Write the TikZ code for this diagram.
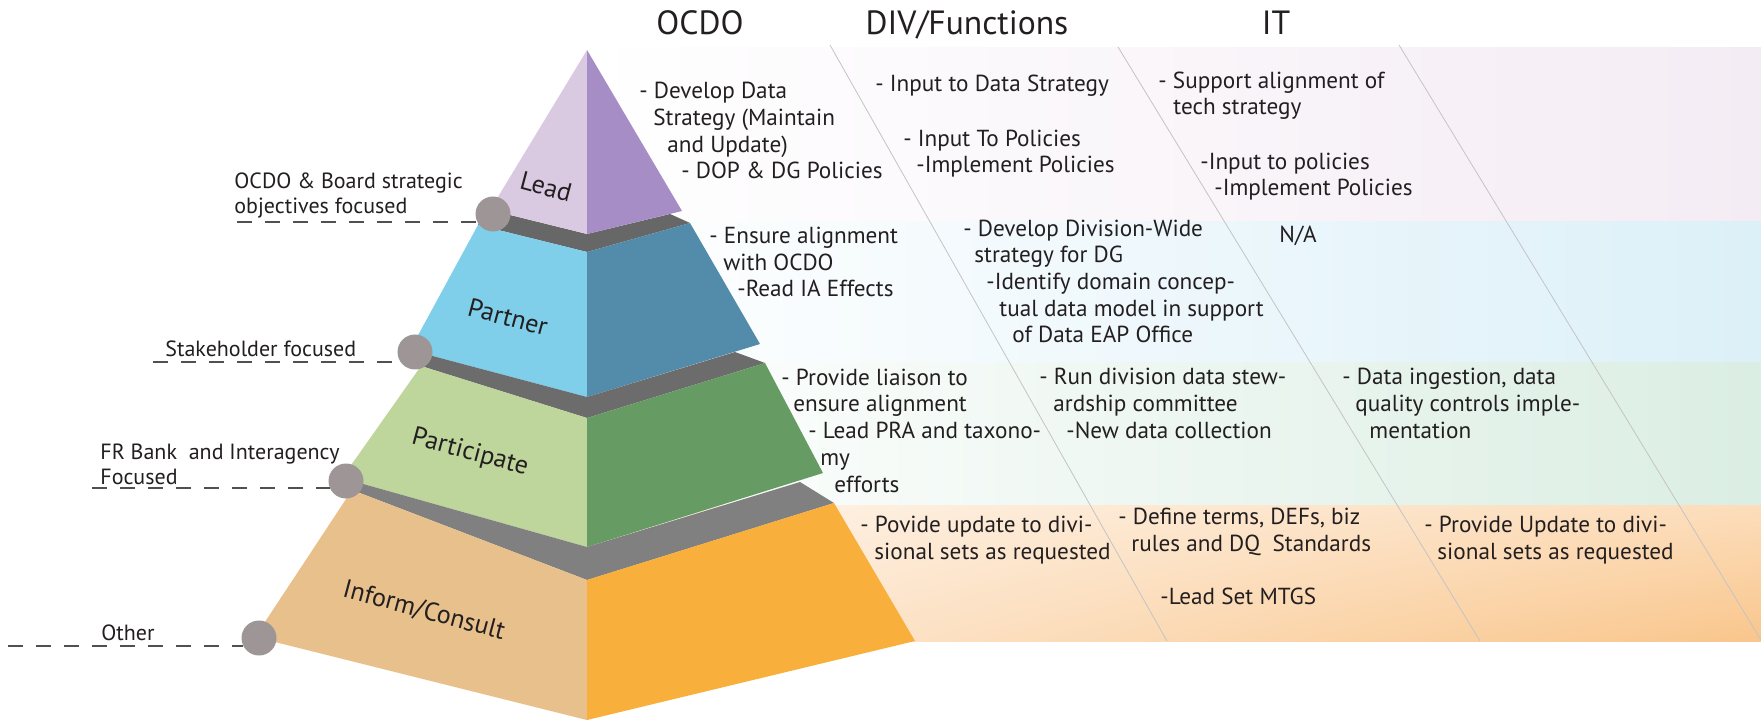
\documentclass[tikz,border=0pt]{standalone}
\usepackage{fontspec}
\setmainfont{PT Sans}
\usetikzlibrary{shadings}

\definecolor{ink}{HTML}{231F20}
\definecolor{leadL}{HTML}{D9CAE2}
\definecolor{leadR}{HTML}{A68DC6}
\definecolor{partL}{HTML}{7FCEEA}
\definecolor{partR}{HTML}{538BAA}
\definecolor{partiL}{HTML}{BED59C}
\definecolor{partiR}{HTML}{669C63}
\definecolor{infL}{HTML}{E8C08C}
\definecolor{infR}{HTML}{F9AF3B}
\definecolor{grayA}{HTML}{676767}
\definecolor{grayB}{HTML}{6C6C6C}
\definecolor{grayC}{HTML}{808080}
\definecolor{dotgray}{HTML}{9E9696}
\definecolor{dashgray}{HTML}{505050}
\definecolor{linegray}{HTML}{C4C4C4}
\definecolor{bandlead}{HTML}{F4ECF4}
\definecolor{bandpart}{HTML}{DCF0F8}
\definecolor{bandparti}{HTML}{DBEEE3}
\definecolor{infUL}{HTML}{FEF4EA}
\definecolor{infUR}{HTML}{FCDDBB}
\definecolor{infLL}{HTML}{FDEBD8}
\definecolor{infLR}{HTML}{F9C68C}

\begin{document}
\begin{tikzpicture}[x=0.5pt,y=-0.5pt,
  body/.style={anchor=base west,inner sep=0pt,align=left,text=ink,
    font=\fontsize{11.6}{13.35}\selectfont},
  side/.style={body,font=\fontsize{11}{12.5}\selectfont},
  level/.style={rotate=-15,inner sep=0pt,text=ink,font=\fontsize{13}{15}\selectfont},
  head/.style={anchor=base,inner sep=0pt,text=ink,font=\fontsize{16.8}{19}\selectfont},
  dot/.style={circle,fill=dotgray,minimum size=17.5pt,inner sep=0pt},
  dashline/.style={draw=dashgray,line width=0.6pt,dash pattern=on 7.5pt off 6.5pt},
  divider/.style={draw=linegray,line width=0.4pt}]

\useasboundingbox (0,0) rectangle (1761,721);

% The bands behind the columns
\shade[left color=white,right color=bandlead] (587,48) rectangle (1761,222);
\shade[left color=white,right color=bandpart] (587,222) rectangle (1761,363);
\shade[left color=white,right color=bandparti] (587,363) rectangle (1761,505);
\shade[upper left=infUL,upper right=infUR,lower left=infLL,lower right=infLR]
  (587,505) rectangle (1761,641);

% The column dividers
\draw[divider] (830,45) -- (1167,641);
\draw[divider] (1118,47) -- (1480,641);
\draw[divider] (1399,45) -- (1761,640);

% The pyramid, top to bottom
\fill[grayA] (490,210) -- (587,234) -- (670,214) -- (690,223) -- (587,252) -- (478,225) -- cycle;
\fill[leadL] (587,50) -- (490,210) -- (587,234) -- cycle;
\fill[leadR] (587,50) -- (587,234) -- (682,211) -- cycle;

\fill[partL] (478,225) -- (587,252) -- (587,397) -- (410,350) -- cycle;
\fill[partR] (587,252) -- (690,223) -- (760,344) -- (587,397) -- cycle;
\fill[grayB] (410,350) -- (587,397) -- (735,352) -- (765,363) -- (587,418) -- (421,366) -- cycle;

\fill[partiL] (421,366) -- (587,418) -- (587,547) -- (342,478) -- cycle;
\fill[partiR] (587,418) -- (765,363) -- (823,473) -- (587,547) -- cycle;
\fill[grayC] (342,478) -- (587,547) -- (800,482) -- (834,503) -- (587,580) -- (352,490) -- cycle;

\fill[infL] (352,490) -- (587,580) -- (587,720) -- (255,637) -- cycle;
\fill[infR] (587,580) -- (834,503) -- (915,641) -- (587,720) -- cycle;

% The level names
\node[level] (lvLead) at (546,187) {Lead};
\node[level] (lvPartner) at (508,317) {Partner};
\node[level] (lvParti) at (470,453) {Participate};
\node[level] (lvInform) at (424,611) {Inform/Consult};

% The corner dots and the dashed leaders
\node[dot] (c1) at (493,214) {};
\node[dot] (c2) at (415,352) {};
\node[dot] (c3) at (346,481) {};
\node[dot] (c4) at (259,638) {};
\coordinate (d1) at (237,222);
\coordinate (d2) at (153,362);
\coordinate (d3) at (92,488);
\coordinate (d4) at (8,646);
\draw[dashline] (d1) -- (d1 -| c1.207);
\draw[dashline] (d2) -- (d2 -| c2.215);
\draw[dashline] (d3) -- (d3 -| c3.204);
\draw[dashline] (d4) -- (d4 -| c4.207);

% side labels (base = last line)
\node[side] (sOcdo) at (234,214) {OCDO \& Board strategic\\objectives focused};
\node[side] (sStake) at (165,357) {Stakeholder focused};
\node[side] (sBank) at (100,484) {FR Bank\ \ and Interagency\\Focused};
\node[side] (sOther) at (101,640) {Other};

% The column heads
\node[head] (hOcdo) at (700,35) {OCDO};
\node[head] (hDiv) at (967,35) {DIV/Functions};
\node[head] (hIt) at (1276,35) {IT};

% OCDO column (base = last line)
\node[body] (oLead) at (639,179) {- Develop Data\\\hspace*{7pt}Strategy (Maintain\\
  \hspace*{14pt}and Update)\\\hspace*{21pt}- DOP \& DG Policies};
\node[body] (oPartner) at (709,297) {- Ensure alignment\\\hspace*{7pt}with OCDO\\
  \hspace*{14pt}-Read IA Effects};
\node[body] (oParti) at (781,492) {- Provide liaison to\\\hspace*{6pt}ensure alignment\\
  \hspace*{13.5pt}- Lead PRA and taxono-\\\hspace*{19.5pt}my\\\hspace*{26.5pt}efforts};
\node[body] (oInform) at (860,559) {- Povide update to divi-\\\hspace*{7pt}sional sets as requested};

% DIV/Functions column
\node[body] (dLeadA) at (875,92) {- Input to Data Strategy};
\node[body] (dLeadB) at (903,173) {- Input To Policies\\\hspace*{6.5pt}-Implement Policies};
\node[body] (dPartner) at (963,343) {- Develop Division-Wide\\\hspace*{5.5pt}strategy for DG\\
  \hspace*{11.5pt}-Identify domain concep-\\\hspace*{18pt}tual data model in support\\
  \hspace*{24.5pt}of Data EAP Office};
\node[body] (dParti) at (1039,438) {- Run division data stew-\\\hspace*{7pt}ardship committee\\
  \hspace*{13.5pt}-New data collection};
\node[body] (dInformA) at (1118,551) {- Define terms, DEFs, biz\\\hspace*{6.5pt}rules and DQ\ \ Standards};
\node[body] (dInformB) at (1160,604) {-Lead Set MTGS};

% IT column
\node[body] (iLeadA) at (1158,115) {- Support alignment of\\\hspace*{7.5pt}tech strategy};
\node[body] (iLeadB) at (1200,196) {-Input to policies\\\hspace*{7pt}-Implement Policies};
\node[body] (iPartner) at (1279,243) {N/A};
\node[body] (iParti) at (1342,438) {- Data ingestion, data\\\hspace*{6.5pt}quality controls imple-\\
  \hspace*{13.5pt}mentation};
\node[body] (iInform) at (1424,559) {- Provide Update to divi-\\\hspace*{6.5pt}sional sets as requested};

\end{tikzpicture}
\end{document}
